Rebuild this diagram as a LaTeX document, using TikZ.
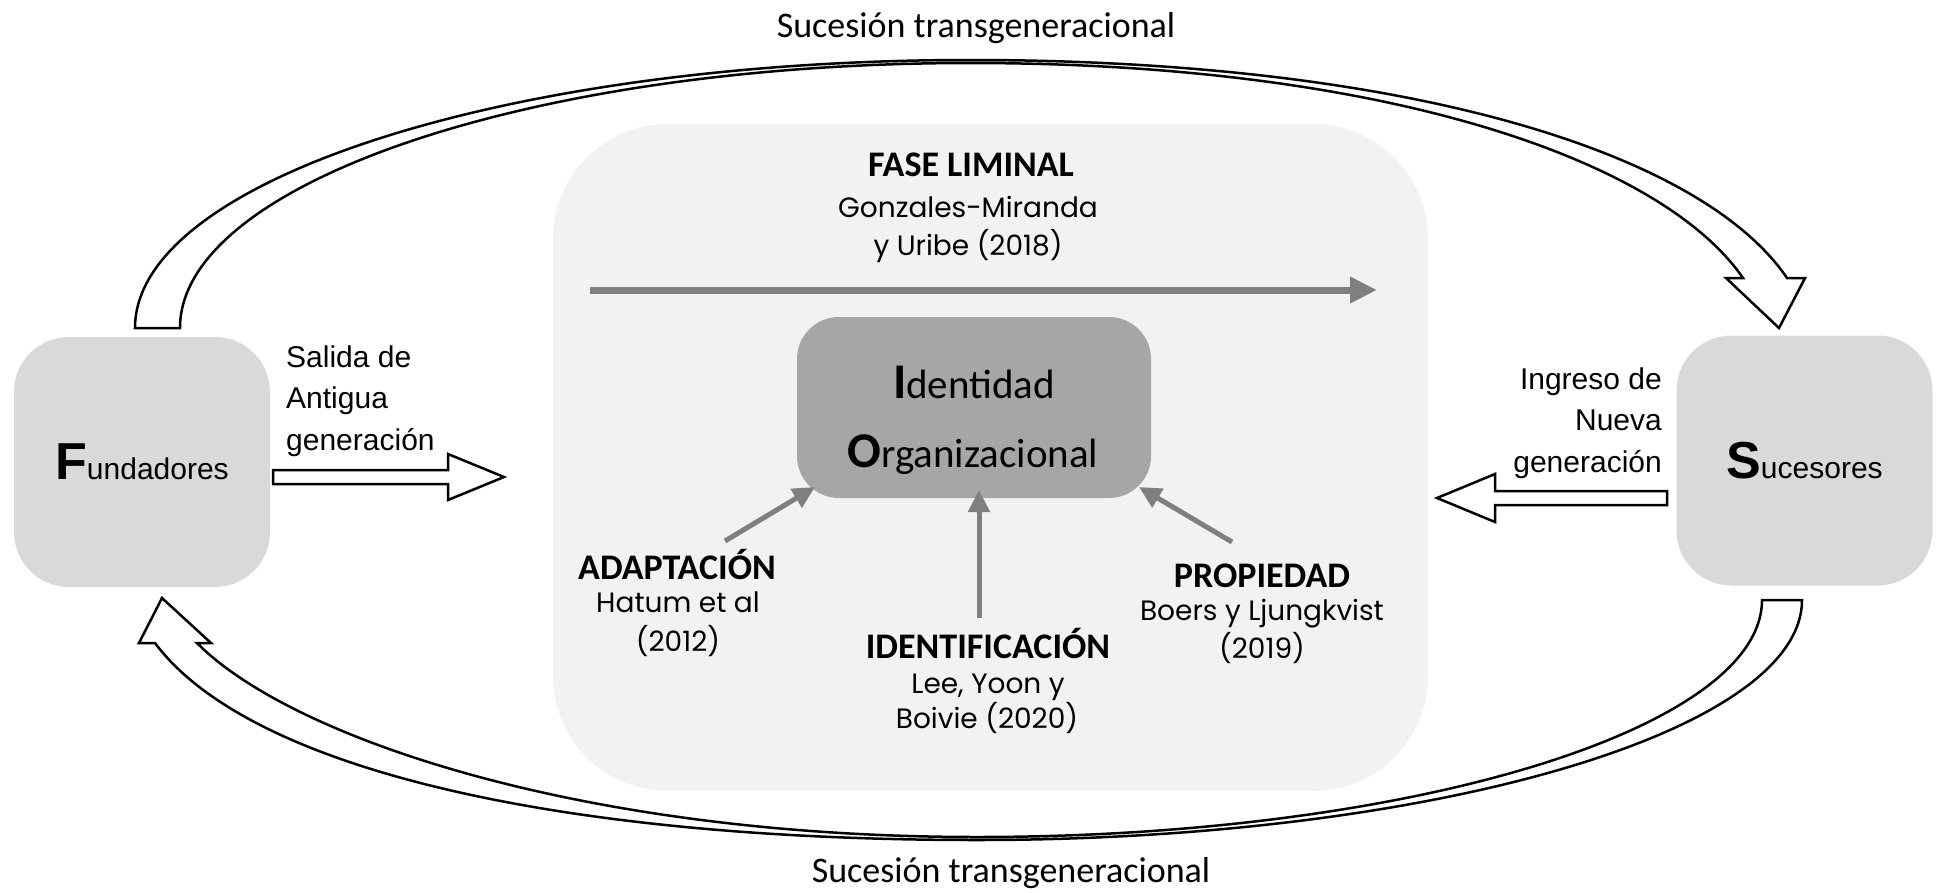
\documentclass[tikz,border=0pt]{standalone}
\usepackage{fontspec}
\setmainfont{Liberation Sans}
\newfontfamily\calfont{Carlito}
\newfontfamily\gothfont{Poppins}
\newfontfamily\arialfont{Liberation Sans}
\usetikzlibrary{arrows.meta}
\definecolor{lightbg}{HTML}{F2F2F2}
\definecolor{sidegray}{HTML}{D9D9D9}
\definecolor{idgray}{HTML}{A6A6A6}
\definecolor{arrgray}{HTML}{7F7F7F}
\newcommand{\tsfont}{\calfont\fontsize{36}{43}\selectfont}
\newcommand{\titlefont}{\calfont\bfseries\fontsize{36}{43}\selectfont}
\newcommand{\refont}{\gothfont\fontsize{28}{34}\selectfont}
\newcommand{\arfont}{\arialfont\fontsize{30}{36}\selectfont}
\begin{document}
\begin{tikzpicture}[x=1pt,y=-1pt,
  phasebox/.style={fill=lightbg, rounded corners=115pt, minimum width=875pt, minimum height=667pt, inner sep=0pt},
  sidebox/.style={fill=sidegray, rounded corners=55pt, minimum width=256pt, minimum height=250pt, inner sep=0pt, font=\arfont},
  idbox/.style={fill=idgray, rounded corners=42pt, minimum width=354pt, minimum height=181pt, inner sep=0pt},
  band/.style={draw=black, line width=2.5pt, fill=white, line join=miter},
  garrow/.style={draw=arrgray, line width=5pt, -{Triangle[length=22pt,width=21pt]}},
  garrowbig/.style={draw=arrgray, line width=7pt, -{Triangle[length=27pt,width=25pt]}},
  lbl/.style={anchor=base, inner sep=0pt},
  idtext/.style={anchor=base, inner sep=0pt, font=\calfont\fontsize{41}{48}\selectfont}
]
\useasboundingbox (0,0) rectangle (1939,892);
\fill[white] (0,0) rectangle (1939,892);

% central liminal phase area
\node[phasebox] (fase) at (990.5,457.5) {};

% top curved arrow (Fundadores -> Sucesores)
\draw[band] (135,328) .. controls (135,180) and (508,60) .. (970,60)
  .. controls (1400,60) and (1700,150) .. (1787,278)
  -- (1805,278) -- (1779,328) -- (1726,278) -- (1743,278)
  .. controls (1660,158) and (1380,63) .. (970,63)
  .. controls (533,63) and (180,183) .. (180,328) -- cycle;

% bottom curved arrow (Sucesores -> Fundadores)
\draw[band] (1802,600) .. controls (1802,732) and (1432,840) .. (977,840)
  .. controls (560,840) and (250,770) .. (155,643)
  -- (139,643) -- (162,598) -- (211,643) -- (197,643)
  .. controls (290,737) and (580,837) .. (977,837)
  .. controls (1410,837) and (1762,729) .. (1762,600) -- cycle;

\node[lbl, font=\tsfont] (suctop) at (976,37) {Sucesión transgeneracional};
\node[lbl, font=\tsfont] (sucbot) at (1011,882) {Sucesión transgeneracional};

% side boxes
\node[sidebox] (fund) at (142,462) {{\bfseries\fontsize{52}{52}\selectfont F}undadores};
\node[sidebox] (suc) at (1804.5,460.5) {{\bfseries\fontsize{52}{52}\selectfont S}ucesores};

% side labels
\node[anchor=base west, inner sep=0pt, font=\arfont] (sal1) at (286,367) {Salida de};
\node[anchor=base west, inner sep=0pt, font=\arfont] (sal2) at (286,408) {Antigua};
\node[anchor=base west, inner sep=0pt, font=\arfont] (sal3) at (286,450) {generación};
\node[anchor=base east, inner sep=0pt, font=\arfont] (ing1) at (1662,389) {Ingreso de};
\node[anchor=base east, inner sep=0pt, font=\arfont] (ing2) at (1662,430) {Nueva};
\node[anchor=base east, inner sep=0pt, font=\arfont] (ing3) at (1662,472) {generación};

% hollow straight arrows
\draw[band] (273,470) -- (448,470) -- (448,454) -- (504,477) -- (448,500) -- (448,484) -- (273,484) -- cycle;
\draw[band] (1667,491) -- (1495,491) -- (1495,474) -- (1437,498) -- (1495,522) -- (1495,505) -- (1667,505) -- cycle;

% fase liminal
\node[lbl, font=\titlefont] (fl) at (971,176) {FASE LIMINAL};
\node[lbl, font=\refont] (fl1) at (968,217) {Gonzales-Miranda};
\node[lbl, font=\refont] (fl2) at (968,255) {y Uribe (2018)};
\coordinate (flA) at (590,290);
\coordinate (flB) at (1377,290);
\draw[garrowbig] (flA) -- (flB);

% identity box
\node[idbox] (id) at (974,407.5) {};
\node[idtext] (id1) at (974,398) {{\bfseries\fontsize{50}{50}\selectfont I}dentidad};
\node[idtext] (id2) at (973,467) {{\bfseries\fontsize{50}{50}\selectfont O}rganizacional};

% influence arrows
\coordinate (t1) at (725,541); \coordinate (h1) at (815,487);
\coordinate (t2) at (979,618); \coordinate (h2) at (979,490);
\coordinate (t3) at (1232,542); \coordinate (h3) at (1139,487);
\draw[garrow] (t1) -- (h1);
\draw[garrow] (t2) -- (h2);
\draw[garrow] (t3) -- (h3);

% labels
\node[lbl, font=\titlefont] (ad) at (677,579) {ADAPTACIÓN};
\node[lbl, font=\refont] (ad1) at (678,612) {Hatum et al};
\node[lbl, font=\refont] (ad2) at (678,651) {(2012)};
\node[lbl, font=\titlefont] (ide) at (988,658) {IDENTIFICACIÓN};
\node[lbl, font=\refont] (ide1) at (988,693) {Lee, Yoon y};
\node[lbl, font=\refont] (ide2) at (987,728) {Boivie (2020)};
\node[lbl, font=\titlefont] (pr) at (1262,587) {PROPIEDAD};
\node[lbl, font=\refont] (pr1) at (1262,620) {Boers y Ljungkvist};
\node[lbl, font=\refont] (pr2) at (1262,658) {(2019)};
\end{tikzpicture}
\end{document}
